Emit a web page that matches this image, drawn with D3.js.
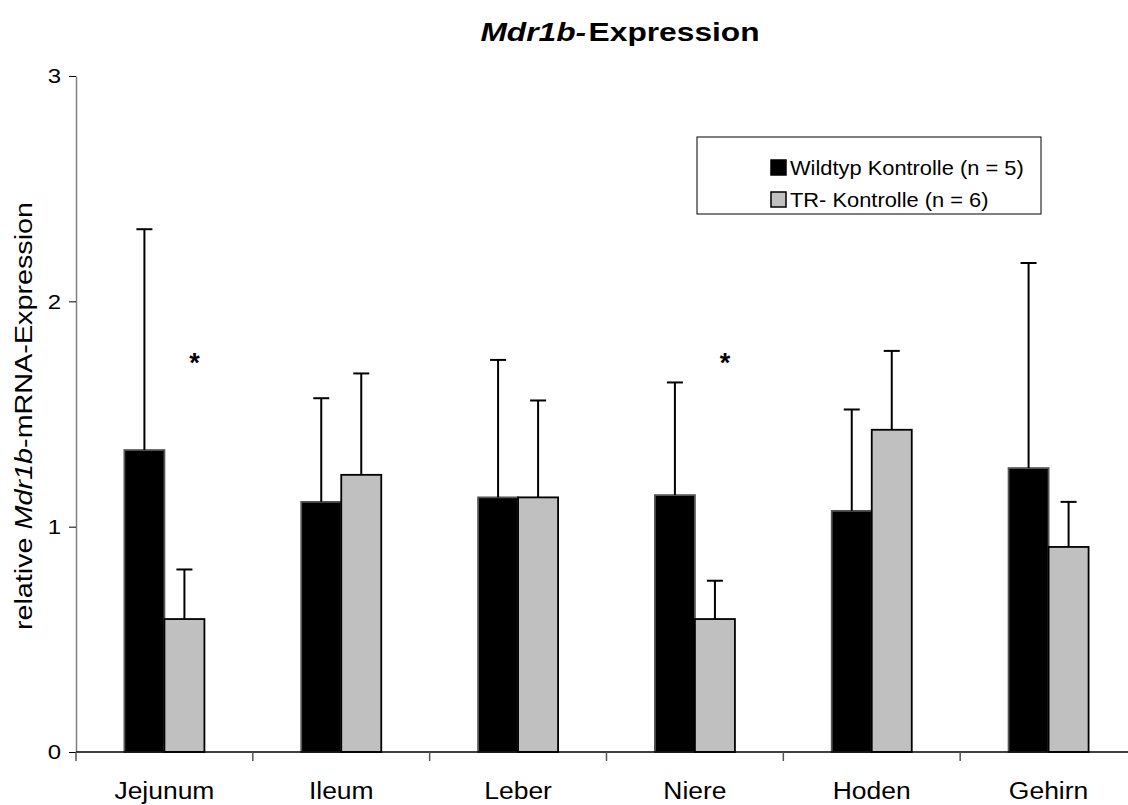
<!DOCTYPE html>
<html>
<head>
<meta charset="utf-8">
<script src="https://cdn.jsdelivr.net/npm/d3@7"></script>
<style>
  body { margin: 0; background: #fff; }
  text { font-family: "Liberation Sans", Arial, sans-serif; fill: #000; }
</style>
</head>
<body>
<div id="chart"></div>
<script>
const categories = ["Jejunum", "Ileum", "Leber", "Niere", "Hoden", "Gehirn"]
const seriesNames = ["Wildtyp Kontrolle (n = 5)", "TR- Kontrolle (n = 6)"]
const wildtypMean = [1.34, 1.11, 1.13, 1.14, 1.07, 1.26]
const wildtypErr  = [0.98, 0.46, 0.61, 0.50, 0.45, 0.91]
const trMean      = [0.59, 1.23, 1.13, 0.59, 1.43, 0.91]
const trErr       = [0.22, 0.45, 0.43, 0.17, 0.35, 0.20]
const significant = ["Jejunum", "Niere"]
const yTicks = [0, 1, 2, 3]

const colors = ["#000000", "#c0c0c0"]

const rows = []
categories.forEach((c, i) => {
    rows.push({cat: c, s: seriesNames[0], v: wildtypMean[i], e: wildtypErr[i]})
    rows.push({cat: c, s: seriesNames[1], v: trMean[i], e: trErr[i]})
})

// the original chart text is drawn wider than the font's own metrics
function stretch(sel, factor) {
    sel.each(function() {
        const w = this.getComputedTextLength()
        d3.select(this)
            .attr("textLength", w * factor)
            .attr("lengthAdjust", "spacingAndGlyphs")
    })
}

const width = 1128, height = 805
const svg = d3.select("#chart").append("svg")
    .attr("width", width)
    .attr("height", height)

let x0 = d3.scaleBand()
    .domain(categories)
    .range([76, 1137])
    .padding(0)

let x1 = d3.scaleBand()
    .domain(seriesNames)
    .range([0, x0.bandwidth()])
    .paddingInner(0)
    .paddingOuter(1.21)

let y = d3.scaleLinear()
    .domain([0, 3])
    .range([752, 76])

// y axis
let yAxis = d3.axisLeft(y)
    .tickValues(yTicks)
    .tickFormat(d3.format("d"))
    .tickSize(7)
    .tickSizeOuter(0)
    .tickPadding(8)
const gy = svg.append("g").attr("transform", "translate(76,0)").call(yAxis)
gy.select(".domain").attr("stroke", "#808080").attr("stroke-width", 1.5)
gy.selectAll(".tick line").attr("stroke", "#000")
gy.selectAll(".tick text")
    .attr("font-size", 21)
    .attr("font-family", "Liberation Sans, Arial, sans-serif")
    .call(stretch, 1.14)

// bars
svg.selectAll("rect.bar")
    .data(rows)
    .enter()
    .append("rect")
    .attr("class", "bar")
    .attr("x", d => x0(d.cat) + x1(d.s))
    .attr("y", d => y(d.v))
    .attr("width", x1.bandwidth())
    .attr("height", d => y(0) - y(d.v))
    .attr("fill", d => colors[seriesNames.indexOf(d.s)])
    .attr("stroke", d => d.s === seriesNames[0] ? "#555" : "#000")
    .attr("stroke-width", 1.8)

// error bars (upper only)
const eb = svg.selectAll("g.err").data(rows).enter().append("g").attr("class", "err")
eb.append("line")
    .attr("x1", d => x0(d.cat) + x1(d.s) + x1.bandwidth() / 2)
    .attr("x2", d => x0(d.cat) + x1(d.s) + x1.bandwidth() / 2)
    .attr("y1", d => y(d.v))
    .attr("y2", d => y(d.v + d.e))
    .attr("stroke", "#000").attr("stroke-width", 2)
eb.append("line")
    .attr("x1", d => x0(d.cat) + x1(d.s) + x1.bandwidth() / 2 - 8)
    .attr("x2", d => x0(d.cat) + x1(d.s) + x1.bandwidth() / 2 + 8)
    .attr("y1", d => y(d.v + d.e))
    .attr("y2", d => y(d.v + d.e))
    .attr("stroke", "#000").attr("stroke-width", 2)

// x axis
svg.append("line")
    .attr("x1", 76).attr("x2", width)
    .attr("y1", y(0)).attr("y2", y(0))
    .attr("stroke", "#000").attr("stroke-width", 1.5)
svg.selectAll("line.xtick")
    .data(categories)
    .enter()
    .append("line")
    .attr("class", "xtick")
    .attr("x1", d => x0(d)).attr("x2", d => x0(d))
    .attr("y1", y(0)).attr("y2", y(0) + 9)
    .attr("stroke", "#555").attr("stroke-width", 1.5)
svg.selectAll("text.xlab")
    .data(categories)
    .enter()
    .append("text")
    .attr("class", "xlab")
    .attr("x", d => x0(d) + x0.bandwidth() / 2)
    .attr("y", 799)
    .attr("text-anchor", "middle")
    .attr("font-size", 23)
    .text(d => d)
    .call(stretch, 1.15)

// significance marks
svg.selectAll("text.sig")
    .data(significant)
    .enter()
    .append("text")
    .attr("class", "sig")
    .attr("x", d => x0(d) + x1(seriesNames[1]) + x1.bandwidth() / 2 + 10)
    .attr("y", 372)
    .attr("text-anchor", "middle")
    .attr("font-size", 27)
    .attr("font-weight", "bold")
    .text("*")

// title
const title = svg.append("text")
    .attr("x", 620).attr("y", 41)
    .attr("text-anchor", "middle")
    .attr("font-size", 25)
    .attr("font-weight", "bold")
title.append("tspan").attr("font-style", "italic").text("Mdr1b-")
title.append("tspan").attr("dx", 2).text("Expression")
title.call(stretch, 1.28)

// y label
const ylab = svg.append("text")
    .attr("transform", "translate(32,416) rotate(-90)")
    .attr("text-anchor", "middle")
    .attr("font-size", 23)
ylab.append("tspan").text("relative ")
ylab.append("tspan").attr("font-style", "italic").text("Mdr1b")
ylab.append("tspan").text("-mRNA-Expression")
ylab.call(stretch, 1.25)

// legend
const legend = svg.append("g")
legend.append("rect")
    .attr("x", 697).attr("y", 137)
    .attr("width", 344).attr("height", 77)
    .attr("fill", "#fff").attr("stroke", "#000").attr("stroke-width", 1)
const li = legend.selectAll("g.item")
    .data(seriesNames)
    .enter()
    .append("g")
    .attr("class", "item")
    .attr("transform", (d, i) => `translate(771,${160 + i * 32})`)
li.append("rect")
    .attr("width", 15).attr("height", 15)
    .attr("fill", (d, i) => colors[i])
    .attr("stroke", "#000").attr("stroke-width", 1.5)
li.append("text")
    .attr("x", 19).attr("y", 15)
    .attr("font-size", 21)
    .text(d => d)
    .call(stretch, 1.04)
</script>
</body>
</html>
